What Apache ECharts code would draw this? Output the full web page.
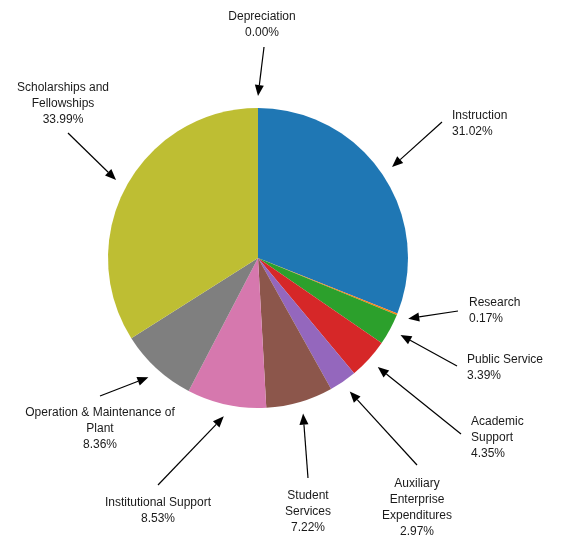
<!DOCTYPE html>
<html><head><meta charset="utf-8">
<script src="https://cdn.jsdelivr.net/npm/echarts@6/dist/echarts.min.js"></script>
<style>html,body{margin:0;padding:0;background:#fff}#c{width:564px;height:535px}</style>
</head><body><div id="c"></div>
<script>
// ---- data ----
const categories = ['Instruction','Research','Public Service','Academic Support','Auxiliary Enterprise Expenditures','Student Services','Institutional Support','Operation & Maintenance of Plant','Scholarships and Fellowships','Depreciation'];
const labelTexts = ['Instruction','Research','Public Service','Academic\nSupport','Auxiliary\nEnterprise\nExpenditures','Student\nServices','Institutional Support','Operation & Maintenance of\nPlant','Scholarships and\nFellowships','Depreciation'];
const values = [31.02, 0.17, 3.39, 4.35, 2.97, 7.22, 8.53, 8.36, 33.99, 0.00];

// ---- style / layout ----
const colors = ['#1f77b4','#ff7f0e','#2ca02c','#d62728','#9467bd','#8c564b','#d678ae','#7f7f7f','#bebe33','#17becf'];
const CX = 258, CY = 258, R = 150, TIP_R = 162;
// label anchor (x, top y, align) and arrow tail per category
const labelLayouts = [
  {x:452, y:108, align:'left',   tail:[442,122]},
  {x:469, y:295, align:'left',   tail:[458,311]},
  {x:467, y:352, align:'left',   tail:[457,366]},
  {x:471, y:414, align:'left',   tail:[461,434]},
  {x:417, y:476, align:'center', tail:[417,465]},
  {x:308, y:488, align:'center', tail:[308,478]},
  {x:158, y:495, align:'center', tail:[158,485]},
  {x:100, y:405, align:'center', tail:[100,396]},
  {x:63,  y:80,  align:'center', tail:[68,133]},
  {x:262, y:9,   align:'center', tail:[264,47]}
];

const chart = echarts.init(document.getElementById('c'), null, {renderer:'canvas'});
const total = values.reduce((a,b)=>a+b,0);

// arrows: tip at slice mid-angle just outside the pie
const graphics = [];
let cum = 0;
values.forEach((v,i)=>{
  const mid = (cum + v/2)/total*2*Math.PI; cum += v;
  const tip = [CX + TIP_R*Math.sin(mid), CY - TIP_R*Math.cos(mid)];
  const tail = labelLayouts[i].tail;
  const dx = tip[0]-tail[0], dy = tip[1]-tail[1];
  const len = Math.sqrt(dx*dx+dy*dy), ux = dx/len, uy = dy/len;
  const hl = 11, hw = 4.5;
  const bx = tip[0]-ux*hl, by = tip[1]-uy*hl;
  graphics.push({type:'line', silent:true, shape:{x1:tail[0], y1:tail[1], x2:bx, y2:by}, style:{stroke:'#000', lineWidth:1.2}});
  graphics.push({type:'polygon', silent:true, shape:{points:[tip,[bx-uy*hw, by+ux*hw],[bx+uy*hw, by-ux*hw]]}, style:{fill:'#000'}});
});

chart.setOption({
  animation:false,
  backgroundColor:'#fff',
  color: colors,
  graphic: graphics,
  series:[{
    type:'pie',
    center:[CX, CY],
    radius:R,
    startAngle:90,
    clockwise:true,
    avoidLabelOverlap:false,
    stillShowZeroSum:true,
    data: categories.map((n,i)=>({name:n, value:values[i]})),
    itemStyle:{borderWidth:0},
    emphasis:{disabled:true},
    label:{
      show:true,
      fontFamily:'Liberation Sans, Arial, sans-serif',
      fontSize:12,
      lineHeight:16,
      color:'#1a1a1a',
      formatter: p => labelTexts[p.dataIndex] + '\n' + values[p.dataIndex].toFixed(2) + '%'
    },
    labelLine:{show:false},
    labelLayout: p => {
      const L = labelLayouts[p.dataIndex];
      return {x:L.x, y:L.y, align:L.align, verticalAlign:'top', hideOverlap:false};
    }
  }]
});
</script></body></html>
